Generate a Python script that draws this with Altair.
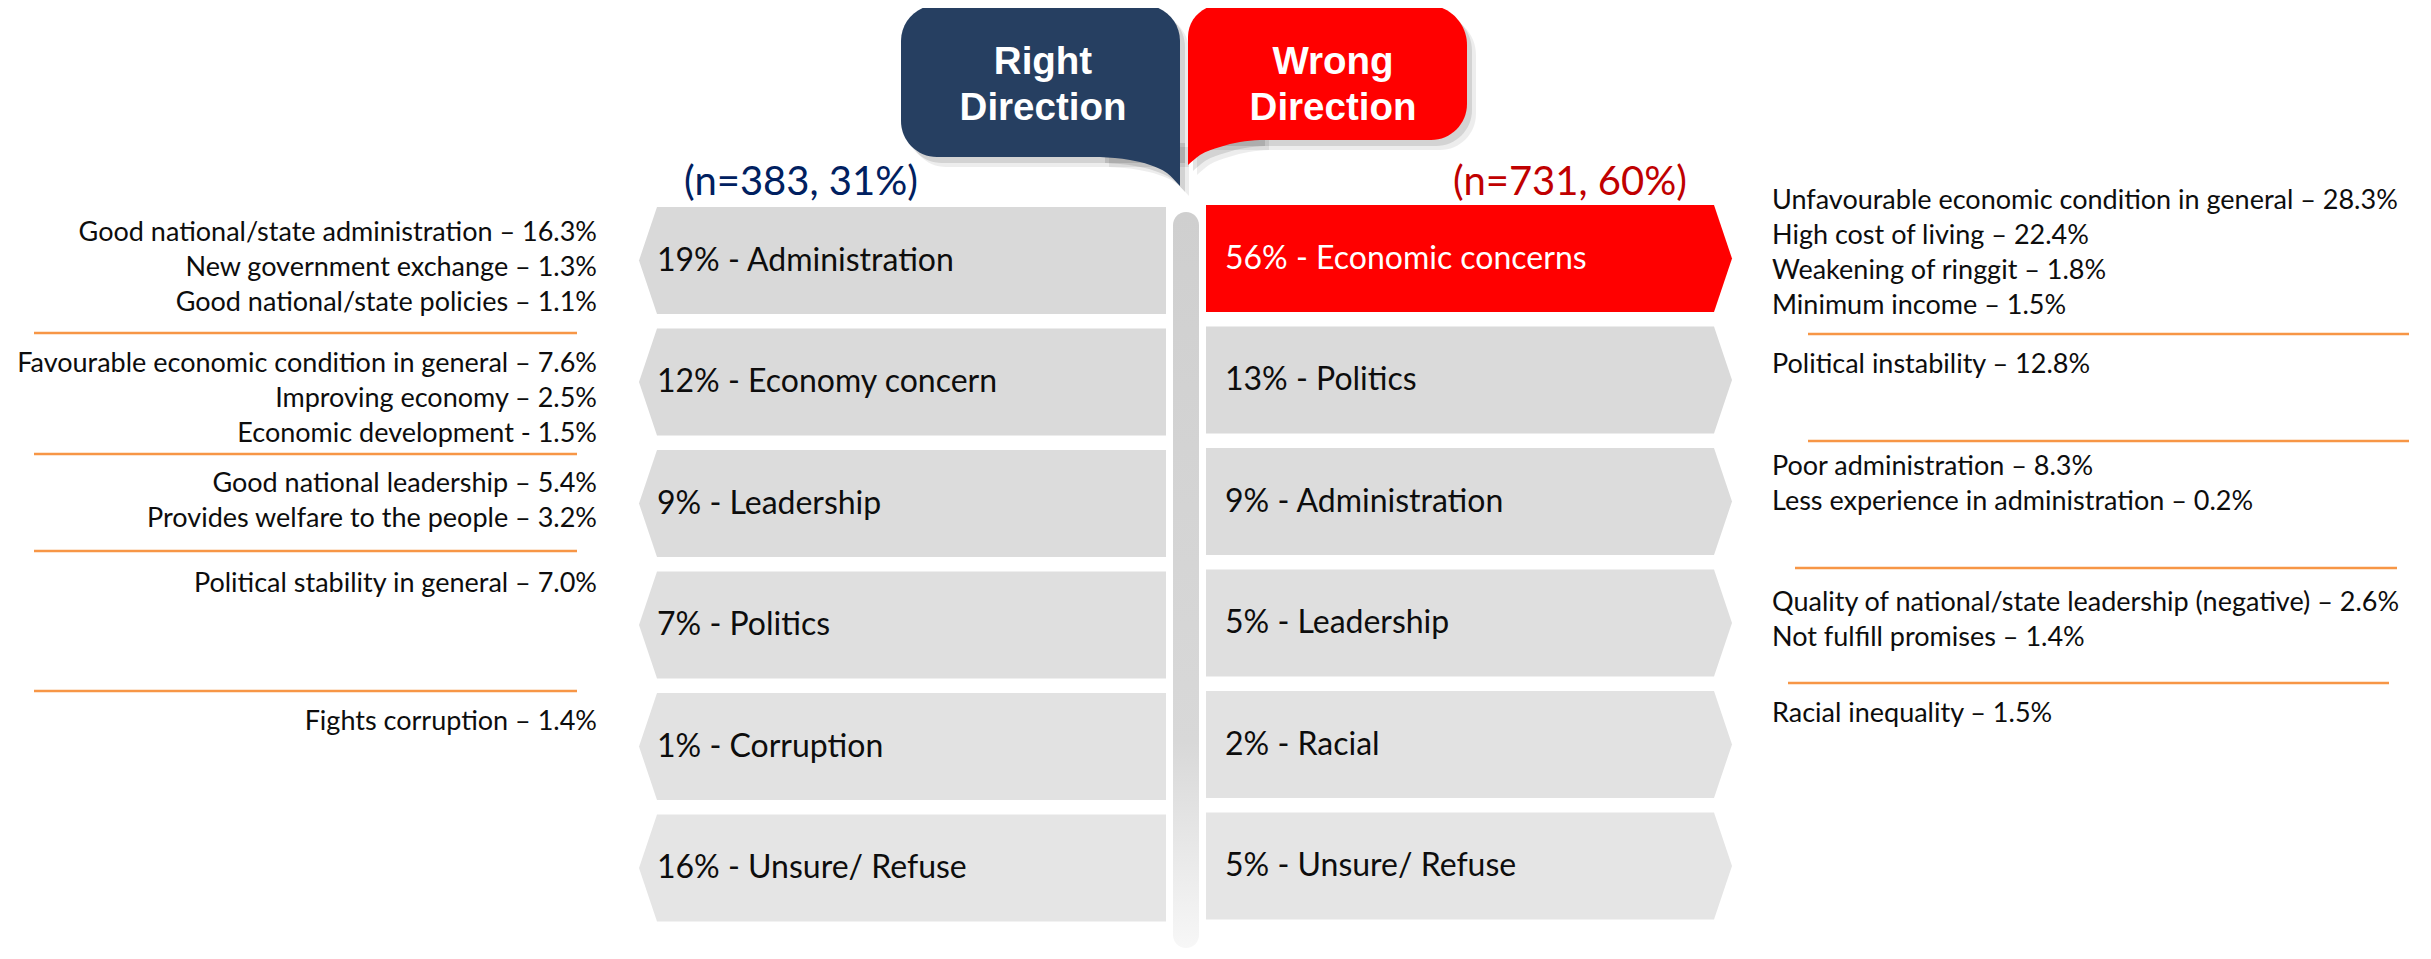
import altair as alt
import pandas as pd

# ---------------- data ----------------
groups = ["Right Direction", "Wrong Direction"]
group_n = [383, 731]
group_share = [31, 60]

right_pct = [19, 12, 9, 7, 1, 16]
right_cat = ["Administration", "Economy concern", "Leadership", "Politics", "Corruption", "Unsure/ Refuse"]
wrong_pct = [56, 13, 9, 5, 2, 5]
wrong_cat = ["Economic concerns", "Politics", "Administration", "Leadership", "Racial", "Unsure/ Refuse"]

right_reasons = [
    ["Good national/state administration – 16.3%", "New government exchange – 1.3%",
     "Good national/state policies – 1.1%"],
    ["Favourable economic condition in general – 7.6%", "Improving economy – 2.5%",
     "Economic development - 1.5%"],
    ["Good national leadership – 5.4%", "Provides welfare to the people – 3.2%"],
    ["Political stability in general – 7.0%"],
    ["Fights corruption – 1.4%"],
    [],
]
wrong_reasons = [
    ["Unfavourable economic condition in general – 28.3%", "High cost of living – 22.4%",
     "Weakening of ringgit – 1.8%", "Minimum income – 1.5%"],
    ["Political instability – 12.8%"],
    ["Poor administration – 8.3%", "Less experience in administration – 0.2%"],
    ["Quality of national/state leadership (negative) – 2.6%", "Not fulfill promises – 1.4%"],
    ["Racial inequality – 1.5%"],
    [],
]

# ---------------- layout / style ----------------
W, H = 2415, 940
O = 8
xs = alt.Scale(domain=[O, O + W], nice=False, zero=False)
ys = alt.Scale(domain=[O, O + H], nice=False, zero=False, reverse=True)

NAVY = "#263F61"
RED = "#FF0000"
ORANGE = "#F79646"
TXT = "#0D0D0D"
LABEL_FONT = "Lato"
HEAD_FONT = "Liberation Sans"

PITCH = 121.5
BAR_H = 107
TIP = 18
L_TOP0, R_TOP0 = 207, 205
L_X0, L_X1 = 657, 1166
R_X0, R_X1 = 1206, 1714
left_fill = ["#D9D9D9", "#DADADA", "#DCDCDC", "#DFDFDF", "#E2E2E2", "#E5E5E5"]
right_fill = [RED, "#DADADA", "#DCDCDC", "#DFDFDF", "#E2E2E2", "#E5E5E5"]
right_text_col = ["#FFFFFF", TXT, TXT, TXT, TXT, TXT]

L_REASON_OFF = [26, 35, 34, 12, 29, 0]
R_REASON_OFF = [-4, 38, 19, 33, 23, 0]
LINE_STEP = 35
L_REASON_X = 597
R_REASON_X = 1772
left_sep_y = [333, 454, 551, 691]
left_sep_x = (34, 577)
right_sep_y = [334, 441, 568, 683]
right_sep_x = [(1808, 2409), (1808, 2409), (1795, 2397), (1788, 2389)]


def X(f="x"):
    return alt.X(f"{f}:Q", scale=xs, axis=None, stack=None)


def Y(f="y"):
    return alt.Y(f"{f}:Q", scale=ys, axis=None, stack=None)


layers = []

# ---- central pillar ----
pillar = pd.DataFrame([{"x": 1173, "x2": 1199, "y": 212, "y2": O + H}])
layers.append(
    alt.Chart(pillar).mark_rect(
        cornerRadius=13,
        color=alt.Gradient(
            gradient="linear",
            stops=[alt.GradientStop(color="#CFCFCF", offset=0),
                   alt.GradientStop(color="#D8D8D8", offset=0.72),
                   alt.GradientStop(color="#F7F7F7", offset=1)],
            x1=0, x2=0, y1=0, y2=1),
    ).encode(x=X(), x2="x2:Q", y=Y(), y2="y2:Q")
)

# ---- chevron bars (vertical-orient areas: x runs along the bar) ----
pts = []
for i, (p, c) in enumerate(zip(right_pct, right_cat)):
    top = L_TOP0 + i * PITCH
    mid, bot = top + BAR_H / 2, top + BAR_H
    for xx, y0, y1 in [(L_X0 - TIP, mid, mid), (L_X0, top, bot), (L_X1, top, bot)]:
        pts.append({"key": f"L{i}", "x": xx, "y": y0, "y2": y1, "fill": left_fill[i]})
for i, (p, c) in enumerate(zip(wrong_pct, wrong_cat)):
    top = R_TOP0 + i * PITCH
    mid, bot = top + BAR_H / 2, top + BAR_H
    for xx, y0, y1 in [(R_X0, top, bot), (R_X1, top, bot), (R_X1 + TIP, mid, mid)]:
        pts.append({"key": f"R{i}", "x": xx, "y": y0, "y2": y1, "fill": right_fill[i]})
bars = pd.DataFrame(pts)
for key, sub in bars.groupby("key", sort=False):
    layers.append(
        alt.Chart(sub).mark_area(interpolate="linear", color=sub["fill"].iloc[0]).encode(
            x=X(), y=Y(), y2="y2:Q")
    )

# ---- bar labels ----
lab = []
for i, (p, c) in enumerate(zip(right_pct, right_cat)):
    lab.append({"x": 657, "y": L_TOP0 + i * PITCH + BAR_H / 2, "text": f"{p}% - {c}", "c": TXT})
for i, (p, c) in enumerate(zip(wrong_pct, wrong_cat)):
    lab.append({"x": 1225, "y": R_TOP0 + i * PITCH + BAR_H / 2, "text": f"{p}% - {c}", "c": right_text_col[i]})
layers.append(
    alt.Chart(pd.DataFrame(lab)).mark_text(align="left", baseline="middle", font=LABEL_FONT, fontSize=32).encode(
        x=X(), y=Y(), text="text:N", color=alt.Color("c:N", scale=None))
)

# ---- reason texts ----
lr = []
for i, lines in enumerate(right_reasons):
    for k, t in enumerate(lines):
        lr.append({"x": L_REASON_X, "y": L_TOP0 + i * PITCH + L_REASON_OFF[i] + k * LINE_STEP, "text": t})
layers.append(
    alt.Chart(pd.DataFrame(lr)).mark_text(align="right", baseline="middle", font=LABEL_FONT, fontSize=27, color=TXT).encode(
        x=X(), y=Y(), text="text:N")
)
rr = []
for i, lines in enumerate(wrong_reasons):
    for k, t in enumerate(lines):
        rr.append({"x": R_REASON_X, "y": R_TOP0 + i * PITCH + R_REASON_OFF[i] + k * LINE_STEP, "text": t})
layers.append(
    alt.Chart(pd.DataFrame(rr)).mark_text(align="left", baseline="middle", font=LABEL_FONT, fontSize=27, color=TXT).encode(
        x=X(), y=Y(), text="text:N")
)

# ---- orange separators ----
seps = [{"x": left_sep_x[0], "x2": left_sep_x[1], "y": yy} for yy in left_sep_y]
seps += [{"x": a, "x2": b, "y": yy} for (a, b), yy in zip(right_sep_x, right_sep_y)]
layers.append(
    alt.Chart(pd.DataFrame(seps)).mark_rule(color=ORANGE, strokeWidth=2.5).encode(x=X(), x2="x2:Q", y=Y())
)

# ---- speech bubbles ----
navy_body = {"x": 901, "x2": 1180, "y": 5, "y2": 157}
red_body = {"x": 1188, "x2": 1467, "y": 5, "y2": 140}
navy_tail = [(1100, 157), (1130, 160), (1150, 165), (1167, 173), (1180, 186)]
red_tail = [(1188, 165), (1200, 155), (1220, 147), (1240, 142), (1260, 140)]
navy_rad = dict(cornerRadiusTopLeft=36, cornerRadiusTopRight=36, cornerRadiusBottomLeft=36)
red_rad = dict(cornerRadiusTopLeft=32, cornerRadiusTopRight=40, cornerRadiusBottomRight=36)

for off, op in [((9, 10), 0.07), ((5, 6), 0.11)]:
    for body, tail, rad in [(navy_body, navy_tail, navy_rad), (red_body, red_tail, red_rad)]:
        sb = pd.DataFrame([{k: v + (off[0] if k.startswith("x") else off[1]) for k, v in body.items()}])
        layers.append(alt.Chart(sb).mark_rect(color="#000000", opacity=op, **rad).encode(
            x=X(), x2="x2:Q", y=Y(), y2="y2:Q"))
        st = pd.DataFrame([{"x": a + off[0], "y": b + off[1], "y2": body["y2"] - 20 + off[1]} for a, b in tail])
        layers.append(alt.Chart(st).mark_area(color="#000000", opacity=op, interpolate="monotone").encode(
            x=X(), y=Y(), y2="y2:Q"))

layers.append(alt.Chart(pd.DataFrame([navy_body])).mark_rect(color=NAVY, **navy_rad).encode(
    x=X(), x2="x2:Q", y=Y(), y2="y2:Q"))
layers.append(alt.Chart(pd.DataFrame([{"x": a, "y": b, "y2": navy_body["y2"] - 20} for a, b in navy_tail])).mark_area(
    color=NAVY, interpolate="monotone").encode(x=X(), y=Y(), y2="y2:Q"))
layers.append(alt.Chart(pd.DataFrame([red_body])).mark_rect(color=RED, **red_rad).encode(
    x=X(), x2="x2:Q", y=Y(), y2="y2:Q"))
layers.append(alt.Chart(pd.DataFrame([{"x": a, "y": b, "y2": red_body["y2"] - 20} for a, b in red_tail])).mark_area(
    color=RED, interpolate="monotone").encode(x=X(), y=Y(), y2="y2:Q"))

# bubble titles
head = []
for g, cx in zip(groups, [1043, 1333]):
    w1, w2 = g.split(" ")
    head.append({"x": cx, "y": 62, "text": w1})
    head.append({"x": cx, "y": 108, "text": w2})
layers.append(alt.Chart(pd.DataFrame(head)).mark_text(
    align="center", baseline="middle", font=HEAD_FONT, fontWeight="bold", fontSize=38.5, color="#FFFFFF").encode(
    x=X(), y=Y(), text="text:N"))

# sample sizes
ns = pd.DataFrame([
    {"x": 801, "y": 183, "text": f"(n={group_n[0]}, {group_share[0]}%)", "c": "#002060"},
    {"x": 1570, "y": 183, "text": f"(n={group_n[1]}, {group_share[1]}%)", "c": "#C00000"},
])
layers.append(alt.Chart(ns).mark_text(align="center", baseline="middle", font=LABEL_FONT, fontSize=40).encode(
    x=X(), y=Y(), text="text:N", color=alt.Color("c:N", scale=None)))

chart = alt.layer(*layers).properties(
    width=W, height=H, padding=0, autosize=alt.AutoSizeParams(type="none")
).configure_view(stroke=None)

chart.save("out.html", embed_options={"renderer": "svg", "actions": False})
